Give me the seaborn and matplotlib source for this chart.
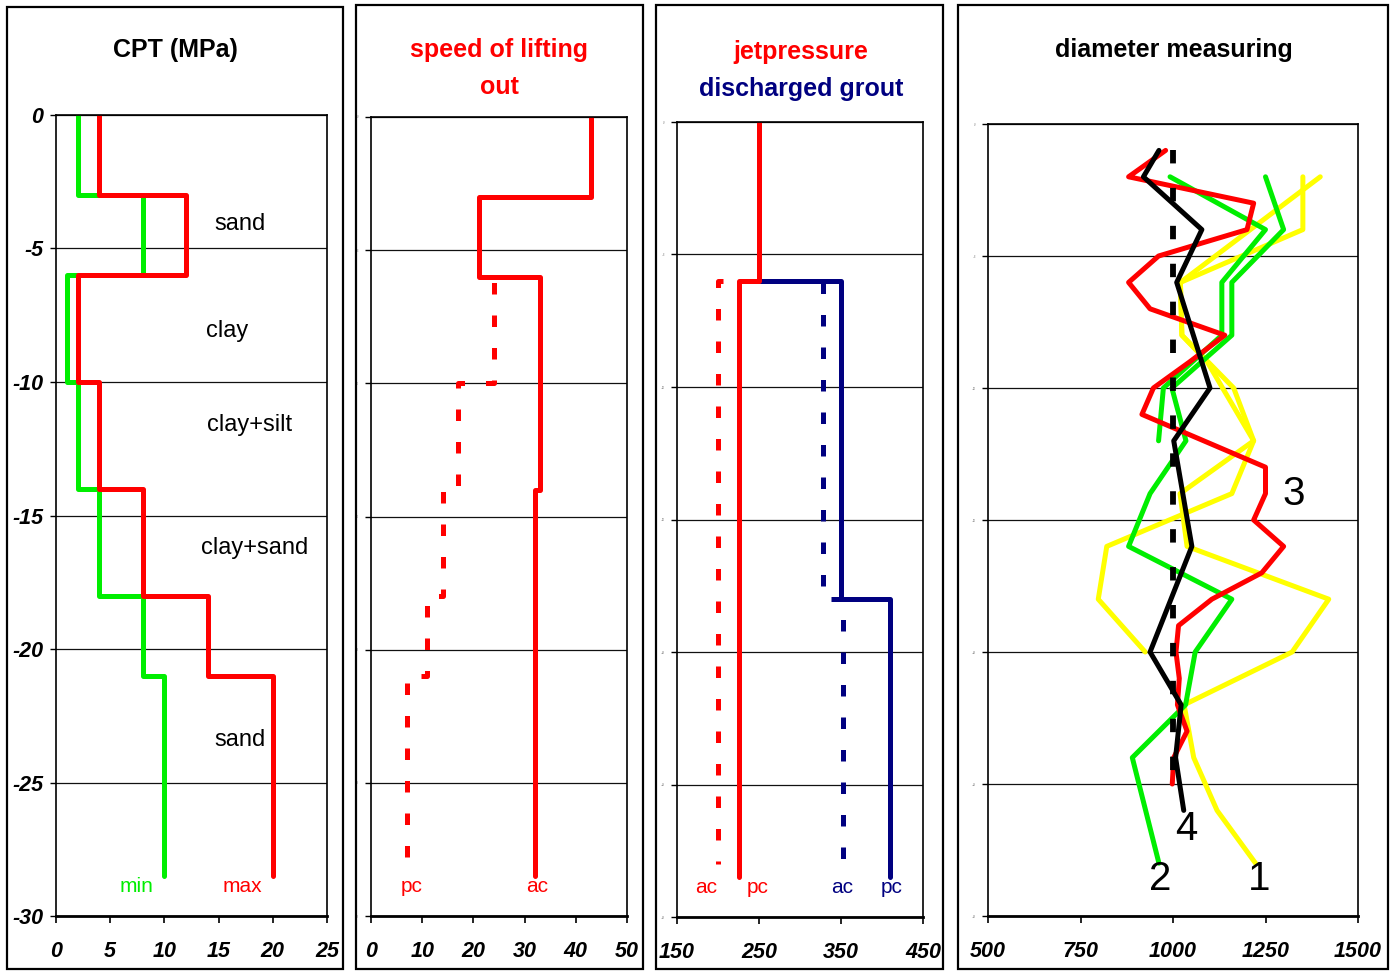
import matplotlib
matplotlib.use('Agg')
import matplotlib.pyplot as plt
import seaborn as sns
from matplotlib.patches import Rectangle

# CPT (MPa): layer boundaries and cone resistance per layer
cpt_depth = [0, -3, -6, -10, -14, -18, -21, -28.5]
cpt_min = [2, 8, 1, 2, 4, 8, 10]
cpt_max = [4, 12, 2, 4, 8, 14, 20]
soil_names = ['sand', 'clay', 'clay+silt', 'clay+sand', 'sand']
soil_x = [17, 15.8, 17.9, 18.3, 17]
soil_y = [-4.1, -8.1, -11.6, -16.2, -23.4]

# speed of lifting out
speed_ac_depth = [0, -3, -6, -14, -28.5]
speed_ac = [43, 21, 33, 32]
speed_pc_depth = [0, -3, -6, -10, -14, -18, -21, -28]
speed_pc = [43, 21, 24, 17, 14, 11, 7]

# jetpressure / discharged grout
jet_pc_depth = [0, -6, -28.5]
jet_pc = [250, 225]
jet_ac_depth = [0, -6, -28]
jet_ac = [250, 200]
grout_start = 250
grout_pc_depth = [-6, -18, -28.5]
grout_pc = [350, 410]
grout_ac_depth = [-6, -18, -28]
grout_ac = [328, 353]

# diameter measuring
d1_depth = [-2, -6, -8, -10, -12, -14, -16, -18, -20, -22, -24, -26, -28]
d1 = [1398, 1020, 1024, 1164, 1218, 1019, 1038, 1421, 1322, 1030, 1056, 1119, 1223]
d1b_depth = [-2, -4, -6, -8, -9, -12, -14, -16, -18, -20]
d1b = [1351, 1351, 1020, 1024, 1092, 1218, 1159, 821, 798, 925]
d2_depth = [-2, -4, -6, -8, -10, -12, -14, -16, -18, -20, -22, -24, -28]
d2 = [1250, 1299, 1159, 1159, 997, 1035, 938, 880, 1159, 1060, 1034, 890, 962]
d2b_depth = [-2, -4, -6, -8, -10, -12]
d2b = [992, 1250, 1132, 1132, 974, 961]
d3_depth = [-1, -2, -3, -4, -5, -6, -7, -8, -9, -10, -11, -12, -13,
            -14, -15, -16, -17, -18, -19, -20, -21, -22, -23, -24, -25]
d3 = [980, 880, 1218, 1200, 961, 880, 938, 1140, 1046, 947, 916, 1083, 1250,
      1250, 1218, 1299, 1240, 1105, 1015, 1008, 1017, 1012, 1038, 1002, 998]
d4_depth = [-1, -2, -4, -6, -10, -12, -16, -20, -22, -24, -26]
d4 = [962, 920, 1078, 1010, 1100, 1002, 1051, 938, 1022, 1007, 1029]
design_x = [1000, 1000]
design_depth = [-1, -25]

RED = '#ff0000'
GREEN = '#00ee00'
NAVY = '#000080'
YELLOW = '#ffff00'
LW = 3.6
DASH = (0, (2.3, 4.2))

sns.set_style('white')
# tick labels are bold italic -> make that the default, plain text overrides it
plt.rcParams['font.family'] = ['Liberation Sans', 'DejaVu Sans']
plt.rcParams['font.style'] = 'italic'
plt.rcParams['font.weight'] = 'bold'
plt.rcParams['xtick.labelsize'] = 15.5
plt.rcParams['ytick.labelsize'] = 15.5
plt.rcParams['text.color'] = 'black'
plt.rcParams['xtick.color'] = 'black'
plt.rcParams['ytick.color'] = 'black'
plt.rcParams['axes.labelcolor'] = 'black'

PLAIN = dict(fontstyle='normal', fontweight='normal', ha='center', va='center')
TITLE = dict(fontstyle='normal', fontweight='bold', fontsize=18, ha='center', va='center')


def steps(values, depths, start=None):
    xs, ys = [], []
    if start is not None:
        xs.append(start)
        ys.append(depths[0])
    for i, v in enumerate(values):
        xs += [v, v]
        ys += [depths[i], depths[i + 1]]
    return xs, ys


def draw(ax, xs, ys, color, ls='-', lw=LW):
    sns.lineplot(x=xs, y=ys, sort=False, estimator=None, color=color,
                 lw=lw, linestyle=ls, ax=ax)


W, H = 1396, 971
fig = plt.figure(figsize=(W / 100, H / 100), dpi=100)

# panel frames (pixels: left, top, right, bottom)
frames = [(7, 7, 343, 969), (356, 5, 643, 969), (656, 5, 943, 969), (958, 5, 1388, 969)]
for l, t, r, b in frames:
    fig.patches.append(Rectangle((l / W, 1 - b / H), (r - l) / W, (b - t) / H,
                                 transform=fig.transFigure, fill=False,
                                 lw=1.6, ec='black'))

# axes boxes (pixels)
boxes = [(56, 115, 327, 916), (371, 117, 627, 916), (677, 122, 923, 917), (988, 124, 1358, 916)]
axes = []
for l, t, r, b in boxes:
    axes.append(fig.add_axes([l / W, 1 - b / H, (r - l) / W, (b - t) / H]))

xlims = [(0, 25), (0, 50), (150, 450), (500, 1500)]
xticks = [[0, 5, 10, 15, 20, 25], [0, 10, 20, 30, 40, 50],
          [150, 250, 350, 450], [500, 750, 1000, 1250, 1500]]
yticks = [0, -5, -10, -15, -20, -25, -30]

for i, ax in enumerate(axes):
    ax.set_xlim(*xlims[i])
    ax.set_ylim(-30, 0)
    ax.set_xticks(xticks[i])
    ax.set_yticks(yticks)
    ax.set_xticklabels([str(v) for v in xticks[i]])
    if i == 0:
        ax.set_yticklabels([str(v) for v in yticks])
    else:
        ax.set_yticklabels([str(v) for v in yticks], fontsize=2, color='#999999')
    ax.tick_params(axis='x', direction='out', length=5, width=1.2, pad=13,
                   bottom=True, colors='black')
    ax.tick_params(axis='y', direction='out', length=4, width=1.0, pad=5, left=True)
    for s in ax.spines.values():
        s.set_color('black')
        s.set_linewidth(1.2)
    ax.spines['bottom'].set_linewidth(2.0)
    ax.grid(axis='y', color='#111111', lw=0.9)
    ax.grid(axis='x', visible=False)
    ax.set_axisbelow(True)
    ax.set_xlabel('')
    ax.set_ylabel('')

# CPT panel
ax = axes[0]
draw(ax, *steps(cpt_min, cpt_depth), GREEN)
draw(ax, *steps(cpt_max, cpt_depth), RED)
for name, x, y in zip(soil_names, soil_x, soil_y):
    ax.text(x, y, name, fontsize=17, **PLAIN)
ax.text(7.4, -28.9, 'min', color=GREEN, fontsize=15, **PLAIN)
ax.text(17.2, -28.9, 'max', color=RED, fontsize=15, **PLAIN)

# speed of lifting out
ax = axes[1]
draw(ax, *steps(speed_pc, speed_pc_depth), RED, DASH)
draw(ax, *steps(speed_ac, speed_ac_depth), RED)
ax.text(8, -28.9, 'pc', color=RED, fontsize=15, **PLAIN)
ax.text(32.4, -28.9, 'ac', color=RED, fontsize=15, **PLAIN)

# jetpressure / discharged grout
ax = axes[2]
draw(ax, *steps(jet_ac, jet_ac_depth), RED, DASH)
draw(ax, *steps(grout_ac, grout_ac_depth, grout_start), NAVY, DASH)
draw(ax, *steps(grout_pc, grout_pc_depth, grout_start), NAVY)
draw(ax, *steps(jet_pc, jet_pc_depth), RED)
ax.text(186, -28.9, 'ac', color=RED, fontsize=15, **PLAIN)
ax.text(248, -28.9, 'pc', color=RED, fontsize=15, **PLAIN)
ax.text(351, -28.9, 'ac', color=NAVY, fontsize=15, **PLAIN)
ax.text(412, -28.9, 'pc', color=NAVY, fontsize=15, **PLAIN)

# diameter measuring
ax = axes[3]
draw(ax, d1, d1_depth, YELLOW)
draw(ax, d1b, d1b_depth, YELLOW)
draw(ax, d2, d2_depth, GREEN)
draw(ax, d2b, d2b_depth, GREEN)
draw(ax, d3, d3_depth, RED)
draw(ax, design_x, design_depth, 'black', DASH, lw=4.2)
draw(ax, d4, d4_depth, 'black')
ax.text(1325, -14.0, '3', fontsize=29, **PLAIN)
ax.text(1036, -26.7, '4', fontsize=29, **PLAIN)
ax.text(965, -28.6, '2', fontsize=29, **PLAIN)
ax.text(1233, -28.6, '1', fontsize=29, **PLAIN)

# panel titles
fig.text(175 / W, 1 - 50 / H, 'CPT (MPa)', **TITLE)
fig.text(499 / W, 1 - 50 / H, 'speed of lifting', color=RED, **TITLE)
fig.text(499 / W, 1 - 87 / H, 'out', color=RED, **TITLE)
fig.text(801 / W, 1 - 52 / H, 'jetpressure', color=RED, **TITLE)
fig.text(801 / W, 1 - 89 / H, 'discharged grout', color=NAVY, **TITLE)
fig.text(1174 / W, 1 - 50 / H, 'diameter measuring', **TITLE)

fig.savefig('out.png', dpi=100)
